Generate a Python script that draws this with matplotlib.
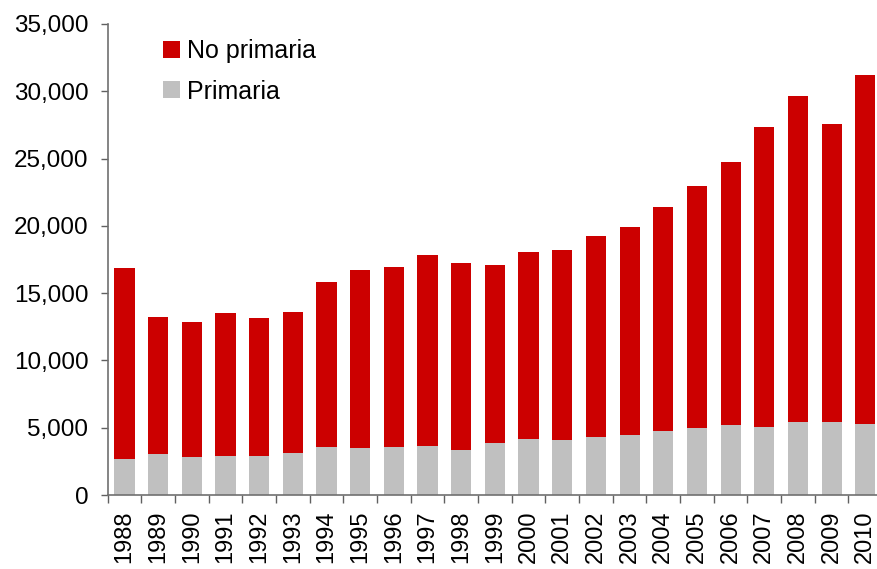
import matplotlib
matplotlib.use("Agg")
import matplotlib.pyplot as plt
from matplotlib.ticker import FuncFormatter
import numpy as np

plt.rcParams["font.family"] = ["Liberation Sans", "DejaVu Sans"]

years = [str(y) for y in range(1988, 2011)]
primaria = [2700, 3060, 2840, 2910, 2910, 3130, 3580, 3510, 3580, 3660, 3360, 3900,
            4180, 4100, 4330, 4480, 4780, 5000, 5220, 5080, 5450, 5450, 5300]
total = [16860, 13220, 12850, 13540, 13150, 13600, 15820, 16710, 16930, 17830, 17230, 17080,
         18050, 18200, 19240, 19900, 21390, 22950, 24730, 27330, 29640, 27560, 31190]
no_primaria = [t - p for t, p in zip(total, primaria)]

fig = plt.figure(figsize=(8.78, 5.69), dpi=100)
ax = fig.add_axes([0.1227, 0.130, 0.882, 0.828])

x = np.arange(len(years))
ax.bar(x, primaria, width=0.6, color="#C0C0C0", label="Primaria")
ax.bar(x, no_primaria, width=0.6, bottom=primaria, color="#CC0000", label="No primaria")

ax.set_xlim(-0.5, len(years) - 0.5)
ax.set_ylim(0, 35000)
ax.set_yticks(range(0, 35001, 5000))
ax.yaxis.set_major_formatter(FuncFormatter(lambda v, _: f"{int(v):,}"))

# year labels between boundary ticks
ax.set_xticks(x)
ax.set_xticklabels(years, rotation=90)
ax.set_xticks(np.arange(-0.5, len(years)), minor=True)
ax.tick_params(axis="x", which="major", length=0, labelsize=17, pad=11)
ax.tick_params(axis="x", which="minor", length=6, color="#606060", width=1)
ax.tick_params(axis="y", length=5, color="#606060", width=1, labelsize=17.5, pad=9)

for side in ["top", "right"]:
    ax.spines[side].set_visible(False)
for side in ["left", "bottom"]:
    ax.spines[side].set_color("#707070")
    ax.spines[side].set_linewidth(1.2)

handles, labels = ax.get_legend_handles_labels()
ax.legend(handles[::-1], labels[::-1], loc="upper left", bbox_to_anchor=(0.186, 0.931),
          bbox_transform=fig.transFigure, frameon=False, fontsize=18,
          handlelength=0.65, handleheight=0.65, handletextpad=0.3, labelspacing=0.65,
          borderpad=0, borderaxespad=0)

fig.savefig("out.png", dpi=100)
